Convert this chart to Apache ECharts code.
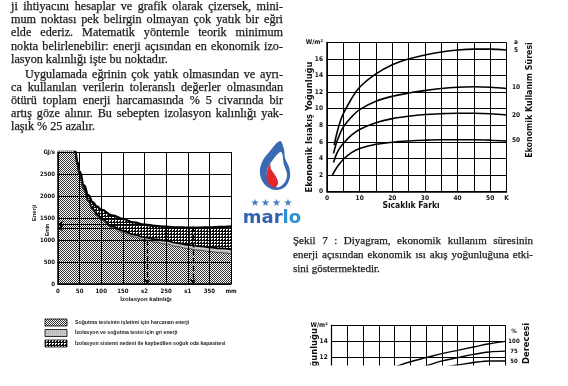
<!DOCTYPE html>
<html><head><meta charset="utf-8">
<script src="https://cdn.jsdelivr.net/npm/echarts@6/dist/echarts.min.js"></script>
<style>html,body{margin:0;padding:0;background:#fff}#c{width:568px;height:386px}</style>
</head><body><div id="c"></div>
<script>
// ===== Left chart: Enerji vs İzolasyon kalınlığı =====
const thicknessMm = [0, 20, 30, 35, 40, 45, 50, 60, 70, 80, 90, 100, 125, 150, 175, 200, 225, 250, 275, 300, 325, 350, 375, 400];
const totalEnergy = [9000, 5200, 3900, 3400, 3020, 2760, 2550, 2240, 2020, 1860, 1760, 1690, 1560, 1480, 1400, 1350, 1320, 1300, 1285, 1280, 1280, 1285, 1295, 1310];
const hatchBottom = [8900, 5130, 3850, 3355, 2980, 2710, 2490, 2150, 1900, 1710, 1580, 1490, 1310, 1210, 1120, 1060, 1015, 980, 930, 890, 860, 835, 810, 790];
const greyBottom  = [8890, 5120, 3840, 3345, 2970, 2698, 2475, 2130, 1878, 1685, 1552, 1460, 1275, 1170, 1072, 1005, 953, 910, 852, 805, 770, 740, 712, 690];
const leftXTicks = {200: 's2', 300: 's1', 400: 'mm'};
const s2 = [206, 1340];
const s1 = [312, 1300];
const eminLevels = [1360, 1270];
const legendTexts = [
  'Soğutma tesisinin işletimi için harcanan enerji',
  'İzolasyon ve soğutma tesisi için gri enerji',
  'İzolasyon sistemi nedeni ile kaybedilen soğuk oda kapasitesi'
];

// ===== Right chart: Ekonomik ısıakış yoğunluğu vs Sıcaklık farkı =====
const life5X  = [2.2, 3, 4, 5, 7.5, 10, 15, 20, 25, 30, 35, 40, 45, 50, 55];
const life5Y  = [5.6, 7.0, 8.4, 9.4, 11.2, 12.6, 14.2, 15.3, 16.0, 16.5, 16.85, 17.1, 17.2, 17.2, 17.1];
const life10X = [2, 3, 4, 5, 7.5, 10, 15, 20, 25, 30, 35, 40, 45, 50, 55];
const life10Y = [4.6, 6.0, 7.0, 7.8, 9.0, 9.9, 10.9, 11.5, 11.9, 12.2, 12.45, 12.6, 12.65, 12.6, 12.45];
const life20X = [2, 3, 4, 5, 7.5, 10, 15, 20, 25, 30, 35, 40, 45, 50, 55];
const life20Y = [3.5, 4.6, 5.3, 5.8, 6.8, 7.5, 8.3, 8.8, 9.1, 9.3, 9.4, 9.45, 9.45, 9.4, 9.25];
const life50X = [1.5, 3, 4, 5, 7.5, 10, 15, 20, 25, 30, 35, 40, 45, 50, 55];
const life50Y = [1.9, 2.9, 3.4, 3.9, 4.7, 5.2, 5.7, 5.95, 6.1, 6.2, 6.25, 6.25, 6.25, 6.2, 6.1];
const lifeLabels = ['a', '5', '10', '20', '50'];

// ===== Bottom-right partial chart =====
const pct100X = [15, 21, 25, 30, 35, 40, 45, 50, 55];
const pct100Y = [10.2, 11.0, 11.5, 12.0, 12.5, 12.9, 13.3, 13.7, 14.0];
const pct75X  = [25, 30, 35, 40, 45, 50, 55];
const pct75Y  = [10.4, 11.0, 11.6, 12.0, 12.4, 12.7, 12.8];
const pct50X  = [35, 40, 45, 50, 55];
const pct50Y  = [10.8, 11.1, 11.4, 11.6, 11.6];
const pctLabels = ['%', '100', '75', '50'];

// ===== Texts =====
const paraLines = [
  'ji ihtiyacını hesaplar ve grafik olarak çizersek, mini-',
  'mum noktası pek belirgin olmayan çok yatık bir eğri',
  'elde ederiz. Matematik yöntemle teorik minimum',
  'nokta belirlenebilir: enerji açısından en ekonomik izo-',
  'lasyon kalınlığı işte bu noktadır.',
  'Uygulamada eğrinin çok yatık olmasından ve ayrı-',
  'ca kullanılan verilerin toleranslı değerler olmasından',
  'ötürü toplam enerji harcamasında % 5 civarında bir',
  'artış göze alınır. Bu sebepten izolasyon kalınlığı yak-',
  'laşık % 25 azalır.'
];
const captionLines = [
  'Şekil 7 : Diyagram, ekonomik kullanım süresinin',
  'enerji açısından ekonomik ısı akış yoğunluğuna etki-',
  'sini göstermektedir.'
];

// ---------- helpers ----------
const SERIF = '"Liberation Serif", "Times New Roman", serif';
const SANS = '"Liberation Sans", Arial, sans-serif';
const NARROW = '"Liberation Sans Narrow", "DejaVu Sans Condensed", "Liberation Sans", sans-serif';
const pair = (xs, ys) => xs.map((x, i) => [x, ys[i]]);

function makePattern(w, h, draw) {
  const c = document.createElement('canvas');
  c.width = w; c.height = h;
  const g = c.getContext('2d');
  g.fillStyle = '#fff'; g.fillRect(0, 0, w, h);
  draw(g);
  return {image: c, repeat: 'repeat'};
}
const dotPat = makePattern(2, 2, g => { g.fillStyle = '#333'; g.fillRect(0, 0, 1, 1); g.fillRect(1, 1, 1, 1); });
const hatchPat = makePattern(3, 3, g => { g.fillStyle = '#111'; g.fillRect(0, 0, 3, 1); g.fillRect(0, 0, 1, 3); g.fillRect(2, 2, 1, 1); });
const greyPat = makePattern(2, 2, g => { g.fillStyle = '#bbb'; g.fillRect(0, 0, 2, 2); g.fillStyle = '#d6d6d6'; g.fillRect(1, 0, 1, 1); });

const mctx = document.createElement('canvas').getContext('2d');
function txt(t, x, y, o) {
  o = o || {};
  const st = {
    text: t, fontSize: o.size || 12, fontFamily: o.family || SERIF, fontWeight: o.weight || 'normal',
    fill: o.fill || '#1a1a1a', align: o.align || 'left', verticalAlign: o.valign || 'middle'
  };
  if (o.stroke) { st.stroke = o.stroke; st.lineWidth = o.lw; }
  return {type: 'text', x: x, y: y, rotation: o.rot || 0, silent: true, z: o.z || 50, style: st};
}
function lineEls(text, x0, x1, y, size, justify) {
  const opt = {size: size, family: SERIF, stroke: '#1a1a1a', lw: 0.25};
  if (!justify) return [txt(text, x0, y, opt)];
  mctx.font = 'normal ' + size + 'px ' + SERIF;
  const words = text.split(' ');
  const widths = words.map(w => mctx.measureText(w).width);
  const total = widths.reduce((a, b) => a + b, 0);
  const gap = Math.max(2, (x1 - x0 - total) / (words.length - 1));
  const out = [];
  let x = x0;
  words.forEach((w, i) => { out.push(txt(w, x, y, opt)); x += widths[i] + gap; });
  return out;
}

// ---------- graphic ----------
const graphic = [];
const paraY = [6.5, 20, 33.3, 46.6, 59.8, 74.5, 87.6, 100.6, 113.6, 126.6];
const paraJust = [1, 1, 1, 1, 0, 1, 1, 1, 1, 0];
paraLines.forEach((l, i) => {
  const x0 = i === 5 ? 25 : 11;
  graphic.push(...lineEls(l, x0, 283, paraY[i], 12.2, !!paraJust[i]));
});
const capY = [241, 255, 269];
captionLines.forEach((l, i) => graphic.push(...lineEls(l, 293, 533, capY[i], 11, i < 2)));

// legend of left chart
const legPats = [dotPat, greyPat, hatchPat];
const legY = [319, 329.5, 340];
legendTexts.forEach((t, i) => {
  graphic.push({type: 'rect', silent: true, z: 50, shape: {x: 45, y: legY[i], width: 22, height: 7},
    style: {fill: legPats[i], stroke: '#000', lineWidth: 0.8}});
  graphic.push(txt(t, 75, legY[i] + 3.5, {size: 5.2, family: SANS, weight: 'bold', fill: '#222'}));
});
// left chart texts
graphic.push(txt('İzolasyon kalınlığı', 146, 299.5, {size: 6, family: SANS, weight: 'bold', align: 'center', fill: '#111'}));
graphic.push(txt('Enerji', 34, 213, {size: 6, family: SANS, weight: 'bold', align: 'center', rot: Math.PI / 2, fill: '#111'}));
graphic.push(txt('Emin', 48, 230, {size: 5, family: SANS, weight: 'bold', align: 'center', rot: Math.PI / 2, fill: '#111'}));

// right chart texts
graphic.push(txt('Ekonomik Isıakış Yoğunluğu', 310, 127, {size: 9.3, family: NARROW, weight: 'bold', align: 'center', rot: Math.PI / 2, fill: '#111'}));
graphic.push(txt('Ekonomik Kullanım Süresi', 530, 100, {size: 8.8, family: NARROW, weight: 'bold', align: 'center', rot: Math.PI / 2, fill: '#111'}));
graphic.push(txt('Sıcaklık Farkı', 411, 206, {size: 8.5, family: NARROW, weight: 'bold', align: 'center', fill: '#111'}));
const lifeLabY = [42, 50, 87, 115, 140.5];
lifeLabels.forEach((t, i) => graphic.push(txt(t, 516, lifeLabY[i], {size: 6.5, family: NARROW, weight: 'bold', align: 'center', fill: '#111'})));

// bottom-right partial chart texts
graphic.push(txt('Ekonomik Isıakış Yoğunluğu', 314.5, 328, {size: 9.3, family: NARROW, weight: 'bold', align: 'right', rot: Math.PI / 2, fill: '#111', z: 45}));
graphic.push(txt('Derecesi', 527, 323, {size: 9.3, family: NARROW, weight: 'bold', align: 'right', rot: Math.PI / 2, fill: '#111', z: 45}));
const pctLabY = [331, 341, 351, 361];
pctLabels.forEach((t, i) => graphic.push(txt(t, 514, pctLabY[i], {size: 6, family: NARROW, weight: 'bold', align: 'center', fill: '#111', z: 45})));
// scan edge: page cut below
graphic.push({type: 'rect', silent: true, z: 55, shape: {x: 300, y: 365.5, width: 268, height: 25}, style: {fill: '#fff'}});

// logo
graphic.push({type: 'polygon', silent: true, z: 60, shape: {smooth: 0.35, points:
  [[280, 141], [270, 151], [262, 162], [260, 174], [265, 185], [275, 190], [285, 187], [290, 177], [289, 167], [285, 158], [284, 149]]},
  style: {fill: '#3b69b4'}});
graphic.push({type: 'polygon', silent: true, z: 61, shape: {smooth: 0.35, points:
  [[281, 152], [272, 161], [267, 171], [268, 180], [273, 186], [279, 187], [285, 182], [287, 174], [284, 165]]},
  style: {fill: '#ffffff'}});
graphic.push({type: 'polygon', silent: true, z: 62, shape: {smooth: 0.35, points:
  [[270, 164], [267, 172], [267, 180], [271, 186], [276, 187], [278, 182], [275, 175], [271, 169]]},
  style: {fill: '#e4262b'}});
[255, 265.5, 276.5, 288].forEach(x => graphic.push(txt('★', x, 203, {size: 10, family: '"DejaVu Sans", sans-serif', align: 'center', fill: '#3b7cc6', z: 60})));
graphic.push({type: 'text', silent: true, z: 60, x: 272, y: 218, style: {
  text: '{a|mar}{b|lo}', align: 'center', verticalAlign: 'middle',
  rich: {a: {fill: '#3463ad', fontSize: 18, fontWeight: 'bold', fontFamily: '"DejaVu Sans", sans-serif'},
         b: {fill: '#2f92d4', fontSize: 18, fontWeight: 'bold', fontFamily: '"DejaVu Sans", sans-serif'}}}});

// ---------- axes ----------
const blackLine = w => ({show: true, lineStyle: {color: '#000', width: w}});
const lab = (size, fmt, margin) => ({fontSize: size, fontWeight: 'bold', color: '#111', fontFamily: NARROW, margin: margin, formatter: fmt, showMinLabel: true, showMaxLabel: true});

const option = {
  animation: false,
  backgroundColor: '#fff',
  graphic: graphic,
  grid: [
    {left: 58, top: 152, width: 173, height: 132},
    {left: 327, top: 42.5, width: 179.5, height: 149},
    {left: 331.7, top: 325, width: 173.3, height: 49}
  ],
  xAxis: [
    {gridIndex: 0, type: 'value', min: 0, max: 400, interval: 50, z: 5,
     axisLine: blackLine(1.5), axisTick: {show: false}, splitLine: blackLine(1),
     axisLabel: lab(6, v => leftXTicks[v] || String(v), 4)},
    {gridIndex: 1, type: 'value', min: 0, max: 55, interval: 5,
     axisLine: blackLine(1.5), axisTick: {show: false}, splitLine: blackLine(1),
     axisLabel: lab(6.5, v => v === 55 ? 'K' : (v % 10 === 0 ? String(v) : ''), 3)},
    {gridIndex: 2, type: 'value', min: 0, max: 55, interval: 5,
     axisLine: blackLine(1.2), axisTick: {show: false}, splitLine: blackLine(1),
     axisLabel: {show: false}}
  ],
  yAxis: [
    {gridIndex: 0, type: 'value', min: 0, max: 3000, interval: 500, z: 5,
     axisLine: blackLine(1.5), axisTick: {show: false}, splitLine: blackLine(1),
     axisLabel: lab(6, v => v === 3000 ? 'GJ/s' : String(v), 3)},
    {gridIndex: 1, type: 'value', min: 0, max: 18, interval: 2,
     axisLine: blackLine(1.5), axisTick: {show: false}, splitLine: blackLine(1),
     axisLabel: lab(6.5, v => v === 18 ? 'W/m²' : String(v), 4)},
    {gridIndex: 2, type: 'value', min: 10, max: 16, interval: 2,
     axisLine: blackLine(1.2), axisTick: {show: false}, splitLine: blackLine(1),
     axisLabel: lab(6.5, v => v === 16 ? 'W/m²' : (v === 10 ? '' : String(v)), 4)}
  ],
  series: [
    {type: 'line', xAxisIndex: 0, yAxisIndex: 0, data: pair(thicknessMm, totalEnergy), smooth: 0.5, smoothMonotone: 'x',
     symbol: 'none', lineStyle: {color: '#000', width: 2.4}, areaStyle: {color: hatchPat, opacity: 1}, clip: true},
    {type: 'line', xAxisIndex: 0, yAxisIndex: 0, data: pair(thicknessMm, hatchBottom), smooth: 0.5, smoothMonotone: 'x',
     symbol: 'none', lineStyle: {color: '#000', width: 1.8}, areaStyle: {color: greyPat, opacity: 1}, clip: true},
    {type: 'line', xAxisIndex: 0, yAxisIndex: 0, data: pair(thicknessMm, greyBottom), smooth: 0.5, smoothMonotone: 'x',
     symbol: 'none', lineStyle: {color: '#333', width: 0.8}, areaStyle: {color: dotPat, opacity: 1}, clip: true,
     markLine: {silent: true, symbol: ['none', 'arrow'], symbolSize: 5, label: {show: false},
       lineStyle: {color: '#000', width: 1.3, type: 'dashed'},
       data: [
         [{coord: [s2[0], s2[1]]}, {coord: [s2[0], 0]}],
         [{coord: [s1[0], s1[1]]}, {coord: [s1[0], 0]}],
         [{coord: [s2[0], eminLevels[0]], lineStyle: {type: 'solid', width: 1}}, {coord: [0, eminLevels[0]]}],
         [{coord: [s1[0], eminLevels[1]], lineStyle: {type: 'solid', width: 1}}, {coord: [0, eminLevels[1]]}]
       ]}},
    ...[[life5X, life5Y], [life10X, life10Y], [life20X, life20Y], [life50X, life50Y]].map(([xs, ys]) => ({
      type: 'line', xAxisIndex: 1, yAxisIndex: 1, data: pair(xs, ys), smooth: 0.35,
      symbol: 'none', lineStyle: {color: '#000', width: 1.6}})),
    ...[[pct100X, pct100Y], [pct75X, pct75Y], [pct50X, pct50Y]].map(([xs, ys]) => ({
      type: 'line', xAxisIndex: 2, yAxisIndex: 2, data: pair(xs, ys), smooth: 0.35,
      symbol: 'none', lineStyle: {color: '#000', width: 1.4}, clip: true}))
  ]
};
const chart = echarts.init(document.getElementById('c'), null, {renderer: 'canvas', width: 568, height: 386});
chart.setOption(option);
</script>
</body></html>
